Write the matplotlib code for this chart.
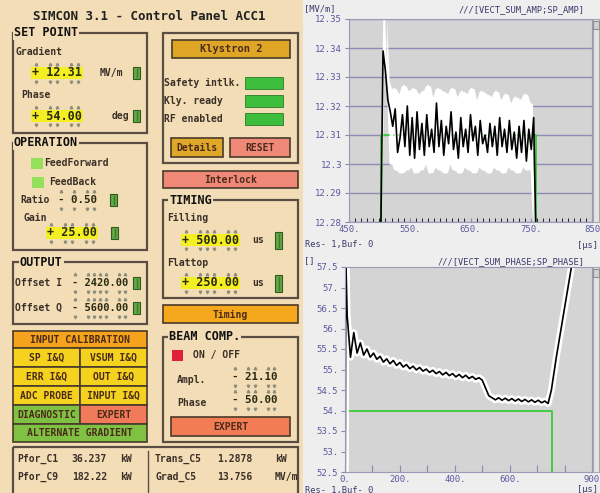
import numpy as np
import matplotlib.pyplot as plt
from matplotlib.patches import Rectangle

# ---- values ----
# amplitude window [MV/m] vs time [us]
amp_t = np.arange(502, 762, 4)
amp_meas = [12.27, 12.339, 12.332, 12.322, 12.318, 12.313, 12.319, 12.304, 12.309,
            12.317, 12.306, 12.320, 12.303, 12.316, 12.302, 12.318, 12.305,
            12.314, 12.303, 12.317, 12.306, 12.312, 12.304, 12.321, 12.306,
            12.315, 12.303, 12.313, 12.307, 12.318, 12.305, 12.311, 12.302,
            12.316, 12.306, 12.312, 12.304, 12.317, 12.308, 12.313, 12.303,
            12.315, 12.307, 12.310, 12.304, 12.314, 12.306, 12.313, 12.303,
            12.316, 12.306, 12.312, 12.304, 12.315, 12.305, 12.311, 12.302,
            12.313, 12.304, 12.315, 12.301, 12.312, 12.305, 12.316, 12.27]
amp_raw_t = np.arange(504, 760, 4)
amp_raw = [12.30, 12.350, 12.329, 12.325, 12.300, 12.326, 12.298, 12.324,
           12.297, 12.327, 12.298, 12.325, 12.299, 12.326, 12.297, 12.324,
           12.298, 12.325, 12.300, 12.327, 12.297, 12.323, 12.299, 12.326,
           12.298, 12.325, 12.297, 12.324, 12.300, 12.326, 12.298, 12.323,
           12.297, 12.325, 12.299, 12.324, 12.298, 12.326, 12.297, 12.322,
           12.299, 12.325, 12.298, 12.324, 12.297, 12.323, 12.299, 12.325,
           12.298, 12.322, 12.297, 12.324, 12.299, 12.321, 12.298, 12.323,
           12.297, 12.322, 12.299, 12.324, 12.298, 12.321, 12.300, 12.28]
amp_sp_t = [450, 503, 503, 758, 758, 850]
amp_sp = [12.27, 12.27, 12.31, 12.31, 12.27, 12.27]

# phase window [deg] vs time [us]
phase_t = [1, 3] + list(range(8, 752, 12)) + [752, 770, 790, 810, 830]
phase_meas = [52.4, 57.7,
              56.3, 55.3, 55.9, 55.4, 55.65, 55.35, 55.5, 55.3,
              55.4, 55.25, 55.32, 55.18, 55.26, 55.14, 55.22, 55.1,
              55.17, 55.06, 55.12, 55.02, 55.08, 54.99, 55.05, 54.96,
              55.01, 54.93, 54.98, 54.9, 54.95, 54.87, 54.93, 54.85,
              54.9, 54.82, 54.88, 54.8, 54.86, 54.78, 54.83, 54.76,
              54.8, 54.74, 54.55, 54.36, 54.31, 54.26, 54.31, 54.25,
              54.3, 54.24, 54.29, 54.23, 54.28, 54.22, 54.27, 54.21,
              54.26, 54.2, 54.25, 54.19, 54.23, 54.17,
              54.5, 55.3, 56.1, 56.9, 57.7]
phase_sp_t = [0, 5, 5, 754, 754, 900]
phase_sp = [52.4, 52.4, 54.0, 54.0, 52.4, 52.4]

amp_yticks = [12.28, 12.29, 12.30, 12.31, 12.32, 12.33, 12.34, 12.35]
amp_ylabels = ['12.28', '12.29', '12.3', '12.31', '12.32', '12.33', '12.34', '12.35']
amp_xticks = [450, 550, 650, 750, 850]
amp_xlabels = ['450.', '550.', '650.', '750.', '850']
ph_yticks = [52.5, 53, 53.5, 54, 54.5, 55, 55.5, 56, 56.5, 57, 57.5]
ph_ylabels = ['52.5', '53.', '53.5', '54.', '54.5', '55.', '55.5', '56.', '56.5', '57.', '57.5']
ph_xticks = [0, 100, 200, 300, 400, 500, 600, 700, 800, 900]
ph_xlabels = ['0.', '', '200.', '', '400.', '', '600.', '', '', '900']

readings_left = [('Pfor_C1', '36.237', 'kW'), ('Pfor_C9', '182.22', 'kW')]
readings_right = [('Trans_C5', '1.2878', 'kW'), ('Grad_C5', '13.756', 'MV/m')]
status_rows = ['Safety intlk.', 'Kly. ready', 'RF enabled']

# ---- colours / fonts ----
BEIGE = '#F3DDB6'
EDGE = '#5A4E44'
INK = '#3A3028'
HL = '#F4EF22'
MONO = ['DejaVu Sans Mono', 'DejaVu Sans']
BLUE = '#5A5AA0'

fig = plt.figure(figsize=(6, 4.93), dpi=100)
fig.patch.set_facecolor('#EEEEEE')
pan = fig.add_axes([0, 0, 1, 1])
pan.set_xlim(0, 600)
pan.set_ylim(493, 0)
pan.axis('off')
pan.add_patch(Rectangle((0, 0), 303, 493, fc=BEIGE, ec='none'))


def txt(x, y, s, size=7, ha='left', color=INK, **kw):
    pan.text(x, y, s, fontsize=size, ha=ha, va='center', color=color,
             family=MONO, fontweight='bold', **kw)


def frame(x0, y0, x1, y1, title=None, tx=None):
    pan.add_patch(Rectangle((x0, y0), x1 - x0, y1 - y0, fill=False, ec=EDGE, lw=1.6))
    if title:
        pan.text(tx if tx else x0 + 1, y0, title, fontsize=8.5, ha='left', va='center',
                 color='#111111', family=MONO, fontweight='bold',
                 bbox=dict(fc=BEIGE, ec='none', pad=0.6))


def button(x0, y0, x1, y1, label, fc, size=7):
    pan.add_patch(Rectangle((x0, y0), x1 - x0, y1 - y0, fc=fc, ec='#4A3A2A', lw=1.2))
    txt((x0 + x1) / 2, (y0 + y1) / 2 + 0.5, label, size=size, ha='center', color='#4A2A1A')


def value(x0, y, s, hl=True, size=8.5):
    cw = 0.602 * size * 100 / 72
    if hl:
        pan.add_patch(Rectangle((x0 - 1, y - 6), cw * len(s) + 2, 12, fc=HL, ec='none'))
    txt(x0, y, s, size=size, color='#2A2A10')
    xs = [x0 + (i + 0.5) * cw for i, c in enumerate(s) if c not in '. ']
    pan.plot(xs, [y - 9] * len(xs), ls='none', marker='^', ms=1.8, color='#8C8C7C')
    pan.plot(xs, [y + 9] * len(xs), ls='none', marker='v', ms=1.8, color='#8C8C7C')


def toggle(x0, y0, h=12):
    pan.add_patch(Rectangle((x0, y0), 7, h, fc='#62A844', ec='#2F5A22', lw=0.8))
    pan.plot([x0 + 3.5, x0 + 3.5], [y0 + 2, y0 + h - 2], color='#3E7A2A', lw=1)


# title
txt(33, 16, 'SIMCON 3.1 - Control Panel ACC1', size=9, color='#202020')

# SET POINT
frame(13, 33, 147, 133, 'SET POINT')
txt(15, 52, 'Gradient')
value(32, 73, '+ 12.31')
txt(100, 73, 'MV/m')
toggle(133, 67)
txt(21, 95, 'Phase')
value(32, 116, '+ 54.00')
txt(112, 116, 'deg')
toggle(133, 110)

# OPERATION
frame(13, 143, 147, 250, 'OPERATION')
pan.add_patch(Rectangle((31, 158), 12, 11, fc='#94E05A', ec='none'))
txt(44, 163, 'FeedForward')
pan.add_patch(Rectangle((32, 177), 12, 11, fc='#94E05A', ec='none'))
txt(49, 182, 'FeedBack')
txt(20, 200, 'Ratio')
value(58, 200, '- 0.50', hl=False, size=7.8)
toggle(110, 194)
txt(24, 218, 'Gain')
value(47, 233, '+ 25.00')
toggle(111, 227)

# OUTPUT
frame(13, 262, 147, 324, 'OUTPUT', tx=20)
txt(15, 283, 'Offset I')
value(72, 283, '- 2420.00', hl=False, size=7.5)
toggle(133, 277)
txt(15, 308, 'Offset Q')
value(72, 308, '- 5600.00', hl=False, size=7.5)
toggle(133, 302)

# calibration buttons
button(13, 331, 147, 348, 'INPUT CALIBRATION', '#F5A21C')
grid_rows = [('SP I&Q', 'VSUM I&Q', '#F5D21E', '#F5D21E'),
             ('ERR I&Q', 'OUT I&Q', '#F5D21E', '#F5D21E'),
             ('ADC PROBE', 'INPUT I&Q', '#F5D21E', '#F5D21E'),
             ('DIAGNOSTIC', 'EXPERT', '#7FC243', '#F07A5A')]
y = 348
for a, b, ca, cb in grid_rows:
    button(13, y, 80, y + 19, a, ca)
    button(80, y, 147, y + 19, b, cb)
    y += 19
button(13, 424, 147, 442, 'ALTERNATE GRADIENT', '#7FC243')

# Klystron
frame(163, 33, 298, 163)
button(172, 40, 290, 58, 'Klystron 2', '#DFA626', size=7.5)
for i, name in enumerate(status_rows):
    yy = 83 + i * 18
    txt(164, yy, name)
    pan.add_patch(Rectangle((245, yy - 6), 38, 12, fc='#3DBE3D', ec='#2A7A2A', lw=0.6))
button(171, 138, 223, 157, 'Details', '#E0A828')
button(230, 138, 290, 157, 'RESET', '#F08878')
button(163, 171, 298, 188, 'Interlock', '#F08878')

# TIMING
frame(163, 200, 298, 298, 'TIMING', tx=169)
txt(167, 218, 'Filling')
value(182, 240, '+ 500.00')
txt(252, 240, 'us')
toggle(275, 232, 17)
txt(167, 263, 'Flattop')
value(182, 283, '+ 250.00')
txt(252, 283, 'us')
toggle(275, 275, 17)
button(163, 305, 298, 323, 'Timing', '#F5A81C')

# BEAM COMP
frame(163, 337, 298, 442, 'BEAM COMP.', tx=169)
pan.add_patch(Rectangle((172, 350), 11, 11, fc='#E0203A', ec='none'))
txt(193, 355, 'ON / OFF')
txt(177, 380, 'Ampl.')
value(232, 377, '- 21.10', hl=False, size=7.8)
txt(177, 403, 'Phase')
value(232, 400, '- 50.00', hl=False, size=7.8)
button(171, 417, 290, 436, 'EXPERT', '#F27D55')

# readings box
pan.add_patch(Rectangle((13, 447), 285, 50, fill=False, ec=EDGE, lw=1.6))
pan.plot([148, 148], [451, 493], color=EDGE, lw=1)
for i, (n, v, u) in enumerate(readings_left):
    yy = 459 + i * 18
    txt(17, yy, n)
    txt(107, yy, v, ha='right')
    txt(120, yy, u)
for i, (n, v, u) in enumerate(readings_right):
    yy = 459 + i * 18
    txt(155, yy, n)
    txt(252, yy, v, ha='right')
    txt(275, yy, u)

# scrollbars
for y0, y1 in [(19, 222), (267, 472)]:
    pan.add_patch(Rectangle((593, y0), 6, y1 - y0, fc='#E4E4E4', ec='#A8A8A8', lw=0.8))
    pan.add_patch(Rectangle((593, y0 + 2), 6, 8, fc='#D0D0D0', ec='#909090', lw=0.8))


# plot headers
def hdr(x, y, s, ha='left'):
    pan.text(x, y, s, fontsize=6.3, ha=ha, va='center', color='#3A3A6A', family=MONO)


hdr(304, 9, '[MV/m]')
hdr(585, 10, '///[VECT_SUM_AMP;SP_AMP]', ha='right')
hdr(305, 245, 'Res- 1,Buf- 0')
hdr(598, 245, '[\u00b5s]', ha='right')
hdr(304, 261, '[]')
hdr(585, 262, '///[VECT_SUM_PHASE;SP_PHASE]', ha='right')
hdr(305, 490, 'Res- 1,Buf- 0')
hdr(598, 490, '[\u00b5s]', ha='right')


def style(ax):
    ax.set_facecolor('#D4D4D4')
    for s in ax.spines.values():
        s.set_color('#9A9AB8')
    ax.tick_params(labelsize=6.5, labelcolor=BLUE, colors='#8A8AAA', pad=2)
    for lab in ax.get_xticklabels() + ax.get_yticklabels():
        lab.set_family(MONO)


# amplitude plot
raw = np.array(amp_raw)
raw_hi = np.maximum(raw, np.maximum(np.roll(raw, 1), np.roll(raw, -1)))
raw_lo = np.minimum(raw, np.minimum(np.roll(raw, 1), np.roll(raw, -1)))
raw_hi[0], raw_lo[0] = raw[0], raw[0]
raw_hi[-1], raw_lo[-1] = raw[-1], raw[-1]

ax1 = fig.add_axes([349 / 600, 271 / 493, 243 / 600, 203 / 493])
ax1.plot(amp_sp_t, amp_sp, color='#44CC44', lw=1.4)
ax1.fill_between(amp_raw_t[2:-1], raw_lo[2:-1], raw_hi[2:-1], color='white', lw=0)
ax1.plot(amp_raw_t, amp_raw, color='white', lw=1.4)
ax1.plot(amp_t, amp_meas, color='black', lw=1.2)
ax1.set_xlim(450, 850)
ax1.set_ylim(12.28, 12.35)
ax1.set_yticks(amp_yticks, amp_ylabels)
ax1.set_xticks(amp_xticks, amp_xlabels)
ax1.set_xticks(np.arange(450, 851, 10), minor=True)
ax1.tick_params(axis='x', which='both', direction='in', length=3)
ax1.tick_params(axis='y', length=3)
ax1.grid(axis='y', color='#8C8CB4', lw=1)
ax1.set_axisbelow(True)
style(ax1)

# phase plot
ax2 = fig.add_axes([345 / 600, 21 / 493, 247 / 600, 205 / 493])
ax2.plot(phase_sp_t, phase_sp, color='#44CC44', lw=1.4)
ax2.plot(phase_t, phase_meas, color='white', lw=5)
ax2.plot(phase_t, phase_meas, color='black', lw=1.2)
ax2.set_xlim(0, 900)
ax2.set_ylim(52.5, 57.5)
ax2.set_yticks(ph_yticks, ph_ylabels)
ax2.set_xticks(ph_xticks, ph_xlabels)
ax2.tick_params(axis='x', direction='in', length=5)
ax2.tick_params(axis='y', length=3)
style(ax2)

fig.savefig('out.png', dpi=100)
